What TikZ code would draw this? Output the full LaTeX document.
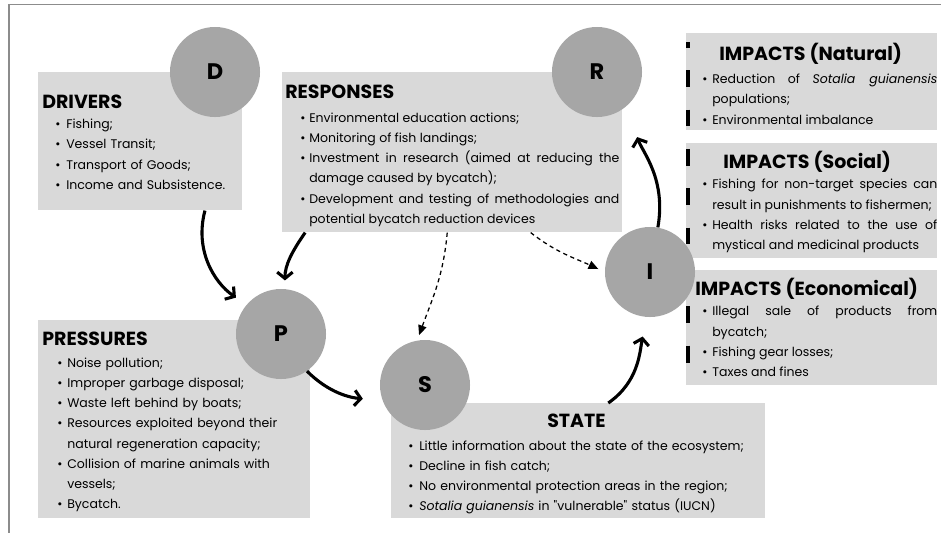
\documentclass[tikz,border=0pt]{standalone}
\usepackage{fontspec}
\setmainfont{Poppins}
\usetikzlibrary{positioning,calc,arrows.meta}

\definecolor{boxgray}{HTML}{D9D9D9}
\definecolor{circgray}{HTML}{A6A6A6}
\definecolor{framegray}{HTML}{8C8C8C}

\newdimen\pxl \pxl=0.025cm
\newdimen\bulind \newdimen\itmind
\newcommand{\bodyfnt}{\fontsize{8.9}{14.4}\selectfont}
\newcommand{\titlefnt}{\fontsize{13.5}{14.4}\selectfont\bfseries}
\newcommand{\ttl}[2][0]{\noindent\rule{0pt}{12pt}{\titlefnt #2}\par\vspace{#1\pxl}}
\newcommand{\itm}{\par\hangindent=\itmind\hangafter=1\noindent\hbox to\itmind{\hskip\bulind\textbullet\hfil}}

\begin{document}
\begin{tikzpicture}[x=0.025cm,y=-0.025cm,
    infobox/.style={fill=boxgray, anchor=north west, inner sep=0pt},
    txt/.style={anchor=north west, inner sep=0pt, font=\bodyfnt},
    itemat/.style 2 args={execute at begin node={\bulind=#1\pxl\itmind=#2\pxl
        \hyphenpenalty=10000\exhyphenpenalty=10000}},
    dpsir/.style={circle, fill=circgray, minimum size=2.25cm, inner sep=0pt,
        font=\fontsize{16}{18}\selectfont\bfseries},
    flow/.style={line width=2.2pt, -{Straight Barb[length=4.5pt,width=11pt]}},
    dflow/.style={line width=0.9pt, dash pattern=on 3pt off 2.5pt,
        -{Triangle[length=7pt,width=6pt]}}]
    \useasboundingbox (0,0) rectangle (941,533);
    \draw[framegray, line width=1.4pt] (9,533) -- (9,4.5) -- (941,4.5);

    % boxes
    \node[infobox, minimum width=5.1cm, minimum height=3.45cm] (drv) at (38,72) {};
    \node[infobox, minimum width=8.5cm, minimum height=4cm] (resp) at (282,72) {};
    \node[infobox, minimum width=6.8cm, minimum height=4.95cm] (press) at (38,320) {};
    \node[infobox, minimum width=9.35cm, minimum height=2.875cm] (state) at (391,403) {};
    \node[infobox, minimum width=6.275cm, minimum height=2.425cm] (nat) at (686,33) {};
    \node[infobox, minimum width=6.275cm, minimum height=2.875cm] (soc) at (686,143) {};
    \node[infobox, minimum width=6.275cm, minimum height=2.875cm] (econ) at (686,270) {};

    \node[txt, text width=4.825cm, itemat={13}{24}, align=left] (drvtxt) at (42,91.1)
        {\ttl{DRIVERS}
         \itm Fishing;
         \itm Vessel Transit;
         \itm Transport of Goods;
         \itm Income and Subsistence.\par};
    \node[txt, text width=8.35cm, itemat={15}{24}, align=justify] (resptxt) at (285,81.1)
        {\ttl[3.7]{RESPONSES}
         \itm Environmental education actions;
         \itm Monitoring of fish landings;
         \itm Investment in research (aimed at reducing the\linebreak damage caused by bycatch);
         \itm Development and testing of methodologies and\linebreak potential bycatch reduction devices\par};
    \node[txt, text width=6.5cm, itemat={15}{25}, align=left] (presstxt) at (42,328.1)
        {\ttl[1.7]{PRESSURES}
         \itm Noise pollution;
         \itm Improper garbage disposal;
         \itm Waste left behind by boats;
         \itm Resources exploited beyond their\newline natural regeneration capacity;
         \itm Collision of marine animals with\newline vessels;
         \itm Bycatch.\par};
    \node[txt, text width=8.5cm, itemat={0}{11}, align=left] (statetxt) at (408,410.1)
        {\ttl[2.7]{\hspace*{139\pxl}STATE}
         \itm Little information about the state of the ecosystem;
         \itm Decline in fish catch;
         \itm No environmental protection areas in the region;
         \itm \textit{Sotalia guianensis} in \textquotedbl vulnerable\textquotedbl\ status (IUCN)\par};
    \node[txt, text width=5.875cm, itemat={0}{10}, align=justify] (nattxt) at (702,43.1)
        {\ttl[2.7]{\hspace*{17\pxl}IMPACTS (Natural)}
         \itm Reduction of \textit{Sotalia guianensis}\linebreak populations;
         \itm Environmental imbalance\par};
    \node[txt, text width=5.875cm, itemat={0}{10}, align=justify] (soctxt) at (702,151.1)
        {\ttl{\hspace*{21\pxl}IMPACTS (Social)}
         \itm Fishing for non-target species can\linebreak result in punishments to fishermen;
         \itm Health risks related to the use of\linebreak mystical and medicinal products\par};
    \node[txt, text width=5.875cm, itemat={0}{10}, align=justify] (econtxt) at (702,278.1)
        {\ttl{\hspace*{-7\pxl}IMPACTS (Economical)}
         \itm Illegal sale of products from\linebreak bycatch;
         \itm Fishing gear losses;
         \itm Taxes and fines\par};

    \draw[line width=2.2pt, dash pattern=on 12pt off 16pt, dash phase=8pt] (688,42) -- (688,382);

    % DPSIR circles
    \node[dpsir] (D) at (215,72) {D};
    \node[dpsir] (R) at (597,72) {R};
    \node[dpsir] (I) at (650,272) {I};
    \node[dpsir] (P) at (281,334) {P};
    \node[dpsir] (S) at (425,385) {S};

    \path ($(drv.south west)!0.816!(drv.south east)$)
            edge[flow, shorten >=9pt, out=255, in=145] (P.140)
          ($(resp.south west)!0.068!(resp.south east)$)
            edge[flow, shorten >=6pt, out=235, in=90] (P.85)
          (P.-55) edge[flow, shorten >=14pt, out=-45, in=175] (S.200)
          ($(state.north west)!0.58!(state.north east)$)
            edge[flow, shorten >=14pt, out=35, in=260] (I.265)
          (I.80) edge[flow, shorten >=23pt, out=80, in=-70] (R.-50);
    \path ($(resp.south west)!0.485!(resp.south east)$)
            edge[dflow, shorten >=4pt, out=265, in=70] (S.100)
          ($(resp.south west)!0.73!(resp.south east)$)
            edge[dflow, shorten >=5pt, out=-38, in=155] (I.180);
\end{tikzpicture}
\end{document}
